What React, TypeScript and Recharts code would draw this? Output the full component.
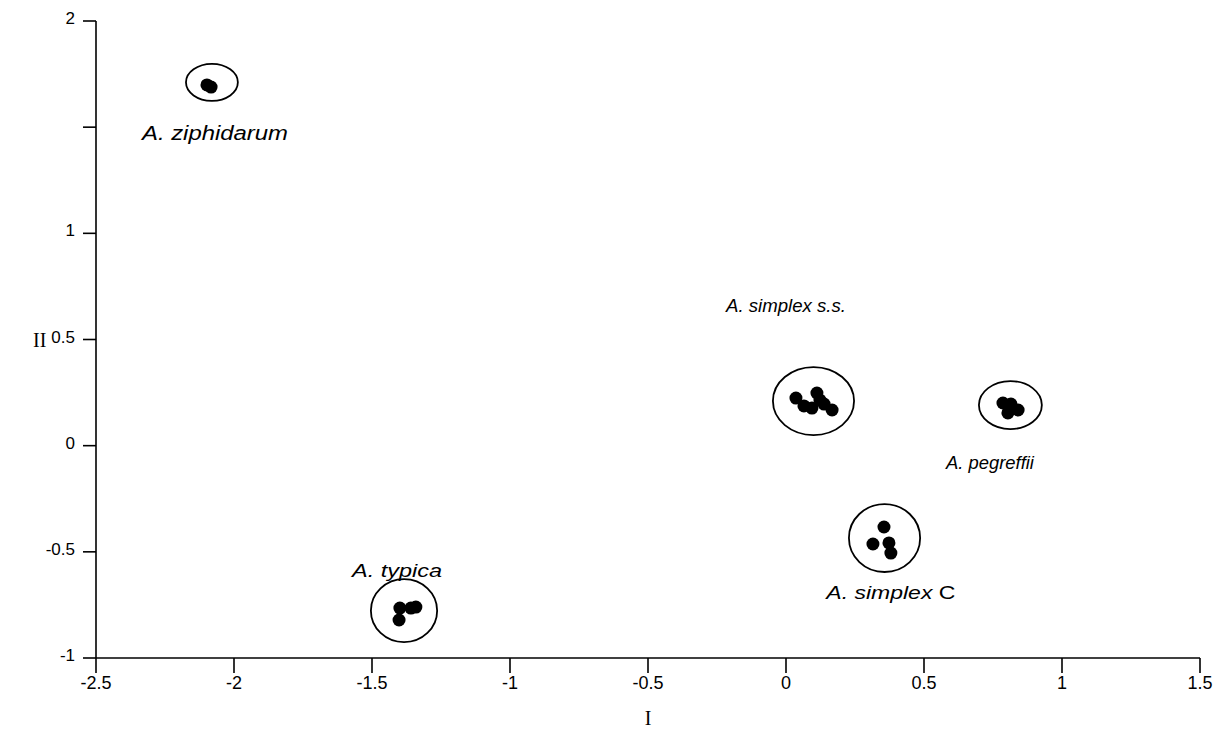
import React from "react";
import {
  ScatterChart,
  Scatter,
  XAxis,
  YAxis,
  ReferenceArea,
  Label,
} from "recharts";

// Specimen points (PCA scores, axis I and II)
const ziphidarum = [
  { x: -2.098, y: 1.699 },
  { x: -2.083, y: 1.689 },
];
const simplexSS = [
  { x: 0.036, y: 0.224 },
  { x: 0.065, y: 0.187 },
  { x: 0.094, y: 0.177 },
  { x: 0.112, y: 0.248 },
  { x: 0.123, y: 0.215 },
  { x: 0.138, y: 0.196 },
  { x: 0.167, y: 0.168 },
];
const pegreffii = [
  { x: 0.786, y: 0.201 },
  { x: 0.815, y: 0.196 },
  { x: 0.804, y: 0.154 },
  { x: 0.841, y: 0.168 },
];
const simplexC = [
  { x: 0.355, y: -0.383 },
  { x: 0.315, y: -0.463 },
  { x: 0.373, y: -0.458 },
  { x: 0.38, y: -0.506 },
];
const typica = [
  { x: -1.399, y: -0.765 },
  { x: -1.359, y: -0.765 },
  { x: -1.341, y: -0.76 },
  { x: -1.402, y: -0.821 },
];

// Group ellipses: center and half-axes in data units
const groupEllipses = [
  { cx: -2.08, cy: 1.711, rx: 0.094, ry: 0.087 },
  { cx: 0.0996, cy: 0.21, rx: 0.147, ry: 0.16 },
  { cx: 0.813, cy: 0.191, rx: 0.114, ry: 0.113 },
  { cx: 0.357, cy: -0.435, rx: 0.129, ry: 0.16 },
  { cx: -1.384, cy: -0.777, rx: 0.12, ry: 0.148 },
];

// Species labels
const speciesLabels = [
  { x: -2.069, y: 1.472, name: "A. ziphidarum", suffix: "" },
  { x: 0.0, y: 0.662, name: "A. simplex s.s.", suffix: "" },
  { x: 0.739, y: -0.077, name: "A. pegreffii", suffix: "" },
  { x: 0.38, y: -0.689, name: "A. simplex ", suffix: "C" },
  { x: -1.409, y: -0.586, name: "A. typica", suffix: "" },
];

const xTicks = [-2.5, -2, -1.5, -1, -0.5, 0, 0.5, 1, 1.5];
const yTicks = [-1, -0.5, 0, 0.5, 1, 1.5, 2];
const yTickLabels: Record<string, string> = {
  "-1": "-1",
  "-0.5": "-0.5",
  "0": "0",
  "0.5": "0.5",
  "1": "1",
  "1.5": "",
  "2": "2",
};

// Per-label typography (the printed labels are stretched differently)
const labelStyle: Record<string, { size: number; len?: number }> = {
  "A. ziphidarum": { size: 20, len: 146 },
  "A. simplex s.s.": { size: 19, len: 120 },
  "A. pegreffii": { size: 19, len: 88 },
  "A. simplex ": { size: 19, len: 129 },
  "A. typica": { size: 19, len: 90 },
};

const SANS = "'Liberation Sans', Arial, sans-serif";
const SERIF = "'Liberation Serif', 'Times New Roman', serif";

const Dot = (props: any) => {
  const { cx, cy } = props;
  if (cx == null || cy == null) return null;
  return <circle cx={cx} cy={cy} r={6.5} fill="#000" />;
};

const LabelShape = (props: any) => {
  const { cx, cy, payload } = props;
  if (cx == null || cy == null) return null;
  const st = labelStyle[payload.name] || { size: 18 };
  const extra: any = st.len
    ? { textLength: st.len, lengthAdjust: "spacingAndGlyphs" }
    : {};
  return (
    <text
      x={cx}
      y={cy}
      textAnchor="middle"
      dominantBaseline="central"
      fontFamily={SANS}
      fontSize={st.size}
      fill="#000"
      {...extra}
    >
      <tspan fontStyle="italic">{payload.name}</tspan>
      {payload.suffix ? <tspan fontStyle="normal">{payload.suffix}</tspan> : null}
    </text>
  );
};

const EllipseShape = (props: any) => {
  const { x, y, width, height } = props;
  if (x == null || y == null) return null;
  return (
    <ellipse
      cx={x + width / 2}
      cy={y + height / 2}
      rx={Math.abs(width) / 2}
      ry={Math.abs(height) / 2}
      fill="none"
      stroke="#000"
      strokeWidth={1.8}
    />
  );
};

const XTick = (props: any) => {
  const { x, y, payload } = props;
  return (
    <text
      x={x}
      y={y + 14}
      textAnchor="middle"
      fontFamily={SANS}
      fontSize={18}
      fill="#000"
    >
      {String(payload.value)}
    </text>
  );
};

const YTick = (props: any) => {
  const { x, y, payload } = props;
  const label = yTickLabels[String(payload.value)] ?? String(payload.value);
  return (
    <text
      x={x}
      y={y + 3}
      textAnchor="end"
      fontFamily={SANS}
      fontSize={17}
      fill="#000"
    >
      {label}
    </text>
  );
};

export default function App() {
  const series = [ziphidarum, simplexSS, pegreffii, simplexC, typica];
  return (
    <div style={{ background: "#fff" }}>
      <ScatterChart
        width={1224}
        height={728}
        margin={{ top: 13, right: 32, bottom: 8, left: 20 }}
      >
        <XAxis
          type="number"
          dataKey="x"
          domain={[-2.5, 1.5]}
          ticks={xTicks}
          interval={0}
          allowDataOverflow
          height={70}
          tickSize={15}
          tickMargin={2}
          stroke="#000"
          strokeWidth={1.6}
          tick={<XTick />}
        >
          <Label
            value="I"
            position="insideBottom"
            offset={3}
            style={{ fontFamily: SERIF, fontSize: 20, fill: "#000" }}
          />
        </XAxis>
        <YAxis
          type="number"
          dataKey="y"
          domain={[-1, 2]}
          ticks={yTicks}
          interval={0}
          allowDataOverflow
          width={68}
          tickSize={13}
          tickMargin={8}
          stroke="#000"
          strokeWidth={1.6}
          tick={<YTick />}
        >
          <Label
            value="II"
            position="insideLeft"
            offset={5}
            angle={0}
            style={{ fontFamily: SERIF, fontSize: 20, fill: "#000" }}
          />
        </YAxis>
        {groupEllipses.map((e, i) => (
          <ReferenceArea
            key={"e" + i}
            x1={e.cx - e.rx}
            x2={e.cx + e.rx}
            y1={e.cy - e.ry}
            y2={e.cy + e.ry}
            shape={<EllipseShape />}
          />
        ))}
        {series.map((d, i) => (
          <Scatter
            key={"s" + i}
            data={d}
            shape={<Dot />}
            isAnimationActive={false}
          />
        ))}
        <Scatter
          data={speciesLabels}
          shape={<LabelShape />}
          isAnimationActive={false}
        />
      </ScatterChart>
    </div>
  );
}
